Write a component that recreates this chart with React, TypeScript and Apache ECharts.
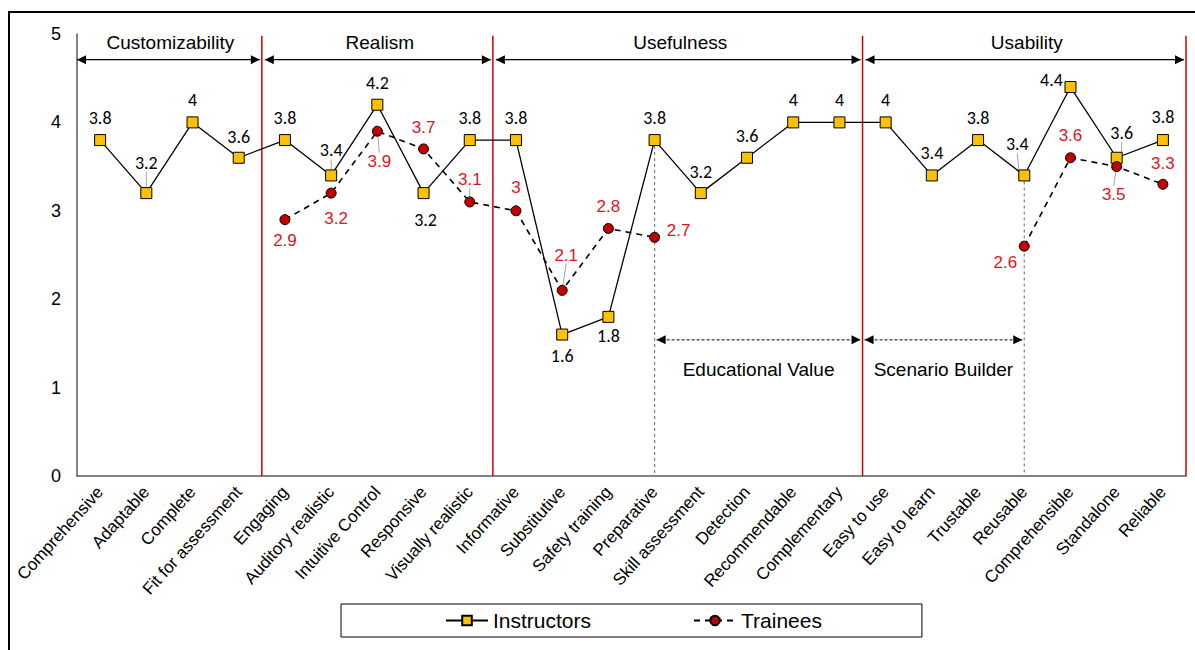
import React, { useEffect, useRef } from "react";
import * as echarts from "echarts";

const categories = [
  "Comprehensive", "Adaptable", "Complete", "Fit for assessment",
  "Engaging", "Auditory realistic", "Intuitive Control", "Responsive", "Visually realistic",
  "Informative", "Substitutive", "Safety training", "Preparative", "Skill assessment",
  "Detection", "Recommendable", "Complementary",
  "Easy to use", "Easy to learn", "Trustable", "Reusable", "Comprehensible", "Standalone", "Reliable",
];

const instructors = [3.8, 3.2, 4, 3.6, 3.8, 3.4, 4.2, 3.2, 3.8, 3.8, 1.6, 1.8, 3.8, 3.2, 3.6, 4, 4, 4, 3.4, 3.8, 3.4, 4.4, 3.6, 3.8];
const trainees: (number | null)[] = [null, null, null, null, 2.9, 3.2, 3.9, 3.7, 3.1, 3.0, 2.1, 2.8, 2.7, null, null, null, null, null, null, null, 2.6, 3.6, 3.5, 3.3];

const yTicks = [0, 1, 2, 3, 4, 5];

const sectionNames = ["Customizability", "Realism", "Usefulness", "Usability"];
const sectionBounds = [-0.5, 3.5, 8.5, 16.5, 23.5];

const subNames = ["Educational Value", "Scenario Builder"];
const subFrom = [12, 16.5];
const subTo = [16.5, 20];
const guideIndices = [12, 20];

// label placement (styles, pixel offsets of label centre from the marker)
const instrOffsets = [
  [0, -22], [0, -30], [0, -22], [0, -21], [0, -22], [0, -25], [0, -22], [2, 27],
  [0, -22], [0, -22], [0, 21], [0, 19], [0, -22], [0, -21], [0, -22], [0, -22],
  [0, -22], [0, -22], [0, -22], [0, -22], [-7, -31], [-19, -7], [5, -25], [0, -23],
];
const instrLeaders = [1, 5, 20, 22];
const trainOffsets = [
  [0, 0], [0, 0], [0, 0], [0, 0], [0, 21], [5, 25], [2, 30], [0, -21],
  [0, -22], [0, -23], [4, -35], [0, -22], [24, -7], [0, 0], [0, 0], [0, 0],
  [0, 0], [0, 0], [0, 0], [0, 0], [-19, 16], [0, -22], [-3, 28], [0, -21],
];
const trainLeaders = [6, 8, 10, 22];

const FONT = "'Liberation Sans', Arial, sans-serif";
const RED = "#CC0000";

function arrowHead(tipX: number, y: number, dir: number) {
  const L = 9, H = 4.5;
  return {
    type: "polygon",
    shape: { points: [[tipX, y], [tipX - dir * L, y - H], [tipX - dir * L, y + H]] },
    style: { fill: "#000" },
  };
}

export default function App() {
  const ref = useRef<HTMLDivElement>(null);
  useEffect(() => {
    if (!ref.current) return;
    const chart = echarts.init(ref.current, null, { renderer: "svg" });

    const instrData = instructors.map((v, i) => ({
      value: v,
      label: { offset: instrOffsets[i] },
      labelLine: { show: instrLeaders.includes(i) },
    }));
    const trainData = trainees.map((v, i) =>
      v == null
        ? "-"
        : {
            value: v,
            label: { offset: trainOffsets[i] },
            labelLine: { show: trainLeaders.includes(i) },
          }
    );

    const option: any = {
      animation: false,
      backgroundColor: "#fff",
      textStyle: { fontFamily: FONT },
      graphic: [
        {
          type: "rect",
          silent: true,
          shape: { x: 9, y: 12, width: 1400, height: 900 },
          style: { fill: "none", stroke: "#000", lineWidth: 2 },
        },
      ],
      grid: { left: 77, right: 9, top: 34, bottom: 174, containLabel: false },
      legend: {
        data: ["Instructors", "Trainees"],
        left: 341,
        top: 604,
        itemWidth: 42,
        itemHeight: 12,
        itemGap: 102,
        padding: [6, 100, 6, 104],
        borderColor: "#000",
        borderWidth: 1,
        textStyle: { fontSize: 21, color: "#000", fontFamily: FONT },
      },
      xAxis: [
        {
          type: "category",
          data: categories,
          boundaryGap: true,
          axisLine: { lineStyle: { color: "#595959", width: 1.5 } },
          axisTick: { alignWithLabel: true, length: 5, lineStyle: { color: "#595959" } },
          axisLabel: { rotate: 48, interval: 0, margin: 13, fontSize: 17, color: "#000", fontFamily: FONT },
          splitLine: { show: false },
        },
        { type: "value", min: -0.5, max: 23.5, show: false },
      ],
      yAxis: {
        type: "value",
        min: yTicks[0],
        max: yTicks[yTicks.length - 1],
        interval: 1,
        axisLine: { show: true, onZero: false, lineStyle: { color: "#595959", width: 1.5 } },
        axisTick: { show: false },
        splitLine: { show: false },
        axisLabel: { fontSize: 18, color: "#000", margin: 16, fontFamily: FONT },
      },
      series: [
        {
          type: "custom",
          name: "sections",
          xAxisIndex: 1,
          z: 1,
          silent: true,
          data: sectionNames.map((n, i) => [sectionBounds[i], sectionBounds[i + 1]]),
          renderItem: (params: any, api: any) => {
            const x0 = api.value(0), x1 = api.value(1);
            const pL = api.coord([x0, 4.71]);
            const pR = api.coord([x1, 4.71]);
            const lblY = api.coord([x0, 4.9])[1];
            const top = api.coord([x1, 4.98]);
            const bot = api.coord([x1, 0]);
            const lx = pL[0] + (params.dataIndex === 0 ? 0 : 3);
            const rx = pR[0] - 2;
            const y = pL[1];
            return {
              type: "group",
              children: [
                { type: "line", shape: { x1: lx, y1: y, x2: rx, y2: y }, style: { stroke: "#000", lineWidth: 1.2 } },
                arrowHead(lx, y, -1),
                arrowHead(rx, y, 1),
                {
                  type: "text",
                  style: {
                    text: sectionNames[params.dataIndex],
                    x: (lx + rx) / 2 + 2, y: lblY, align: "center", verticalAlign: "middle",
                    fontSize: 19, fontFamily: FONT, fill: "#000",
                  },
                },
                { type: "line", shape: { x1: top[0], y1: top[1], x2: bot[0], y2: bot[1] }, style: { stroke: RED, lineWidth: 1.5 } },
              ],
            };
          },
        },
        {
          type: "custom",
          name: "subsections",
          xAxisIndex: 1,
          z: 1,
          silent: true,
          data: subNames.map((n, i) => [subFrom[i], subTo[i]]),
          renderItem: (params: any, api: any) => {
            const pL = api.coord([api.value(0), 1.54]);
            const pR = api.coord([api.value(1), 1.54]);
            const lblY = api.coord([0, 1.21])[1];
            const lx = pL[0] + 2, rx = pR[0] - 2, y = pL[1];
            return {
              type: "group",
              children: [
                { type: "line", shape: { x1: lx, y1: y, x2: rx, y2: y }, style: { stroke: "#000", lineWidth: 1, lineDash: [3, 2] } },
                arrowHead(lx, y, -1),
                arrowHead(rx, y, 1),
                {
                  type: "text",
                  style: {
                    text: subNames[params.dataIndex],
                    x: (pL[0] + pR[0]) / 2, y: lblY, align: "center", verticalAlign: "middle",
                    fontSize: 19, fontFamily: FONT, fill: "#000",
                  },
                },
              ],
            };
          },
        },
        {
          type: "custom",
          name: "guides",
          xAxisIndex: 1,
          z: 1,
          silent: true,
          data: guideIndices.map((i) => [i, instructors[i]]),
          renderItem: (params: any, api: any) => {
            const a = api.coord([api.value(0), api.value(1)]);
            const b = api.coord([api.value(0), 0]);
            return {
              type: "line",
              shape: { x1: a[0], y1: a[1], x2: b[0], y2: b[1] },
              style: { stroke: "#808080", lineWidth: 1.2, lineDash: [3, 3] },
            };
          },
        },
        {
          type: "line",
          name: "Instructors",
          data: instrData,
          z: 3,
          symbol: "rect",
          symbolSize: 11,
          itemStyle: { color: "#FFC000", borderColor: "#000", borderWidth: 1 },
          lineStyle: { color: "#000", width: 1.3 },
          label: {
            show: true,
            position: "inside",
            align: "center",
            verticalAlign: "middle",
            fontSize: 18,
            fontFamily: "Carlito, Lato, 'Open Sans', sans-serif",
            color: "#000",
          },
          labelLine: { lineStyle: { color: "#A6A6A6", width: 1 } },
        },
        {
          type: "line",
          name: "Trainees",
          data: trainData,
          z: 4,
          connectNulls: false,
          symbol: "circle",
          symbolSize: 10,
          itemStyle: { color: "#C00000", borderColor: "#000", borderWidth: 1 },
          lineStyle: { color: "#000", width: 1.6, type: [6, 5] },
          label: {
            show: true,
            position: "inside",
            align: "center",
            verticalAlign: "middle",
            fontSize: 17,
            fontFamily: FONT,
            color: "#E0141E",
          },
          labelLine: { lineStyle: { color: "#A6A6A6", width: 1 } },
        },
      ],
    };
    chart.setOption(option);
    return () => chart.dispose();
  }, []);
  return (
    <div
      ref={ref}
      style={{ position: "fixed", left: 0, top: 0, width: 1195, height: 650, background: "#fff" }}
    />
  );
}
